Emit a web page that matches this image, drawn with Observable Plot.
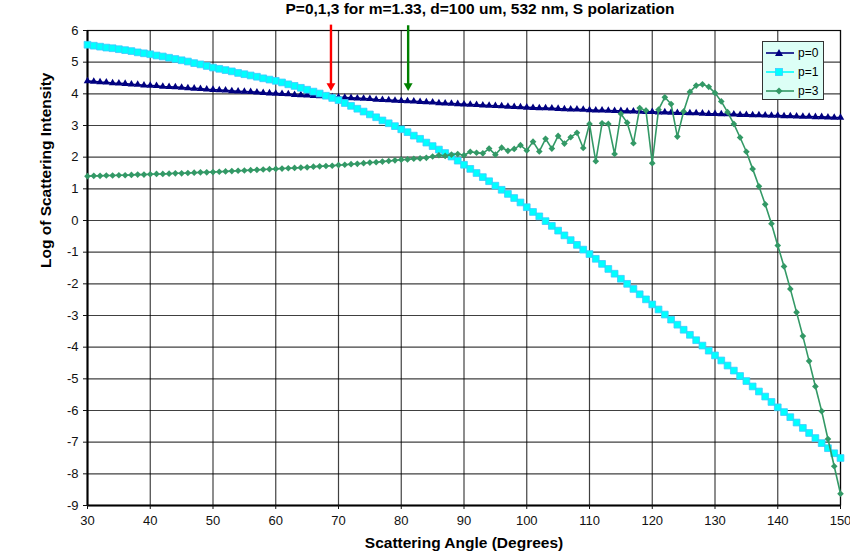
<!DOCTYPE html>
<html><head><meta charset="utf-8">
<script src="https://cdn.jsdelivr.net/npm/d3@7"></script>
<script src="https://cdn.jsdelivr.net/npm/@observablehq/plot@0.6"></script>
<style>
body{margin:0;background:#fff;font-family:"Liberation Sans",Arial,sans-serif}
#wrap{position:relative;width:850px;height:551px}
#legend{position:absolute;left:762px;top:41px;width:62px;height:59px;background:#dcfff6;border:1px solid #333;box-sizing:border-box;font-size:12px;color:#000}
#legend .row{position:absolute;left:2px;height:14px;display:flex;align-items:center}
#legend svg{display:block}
#legend span{margin-left:3px;line-height:14px}
</style></head><body><div id="wrap"></div>
<script>
const titleText = "P=0,1,3 for m=1.33, d=100 um, 532 nm, S polarization";
const xLabel = "Scattering Angle (Degrees)";
const yLabel = "Log of Scattering Intensity";
const seriesNames = ["p=0", "p=1", "p=3"];
const xTicks = [30, 40, 50, 60, 70, 80, 90, 100, 110, 120, 130, 140, 150];
const yTicks = [-9, -8, -7, -6, -5, -4, -3, -2, -1, 0, 1, 2, 3, 4, 5, 6];
const angles = d3.range(30, 151, 1);

const p0 = [
4.40,4.39,4.37,4.36,4.34,4.33,4.32,4.30,4.29,4.27,
4.26,4.25,4.23,4.22,4.21,4.20,4.18,4.17,4.16,4.14,
4.13,4.12,4.11,4.09,4.08,4.07,4.06,4.05,4.03,4.02,
4.01,4.00,3.99,3.97,3.96,3.95,3.94,3.93,3.91,3.90,
3.89,3.88,3.87,3.86,3.85,3.84,3.82,3.81,3.80,3.79,
3.78,3.77,3.76,3.75,3.74,3.73,3.71,3.70,3.69,3.68,
3.67,3.66,3.65,3.64,3.63,3.62,3.61,3.60,3.59,3.58,
3.57,3.56,3.55,3.55,3.54,3.53,3.52,3.51,3.51,3.50,
3.49,3.48,3.48,3.47,3.46,3.46,3.45,3.45,3.44,3.43,
3.43,3.42,3.42,3.41,3.40,3.40,3.39,3.39,3.38,3.37,
3.37,3.36,3.36,3.35,3.34,3.34,3.33,3.33,3.32,3.31,
3.31,3.30,3.30,3.29,3.28,3.28,3.27,3.27,3.26,3.25,
3.25];

const p1 = [
5.55,5.52,5.49,5.46,5.44,5.41,5.38,5.35,5.31,5.28,
5.25,5.21,5.18,5.14,5.10,5.06,5.02,4.97,4.93,4.88,
4.83,4.79,4.75,4.71,4.66,4.62,4.58,4.54,4.49,4.45,
4.41,4.36,4.30,4.25,4.19,4.13,4.07,4.01,3.94,3.87,
3.80,3.71,3.62,3.53,3.44,3.35,3.26,3.16,3.07,2.98,
2.88,2.79,2.68,2.58,2.46,2.35,2.24,2.13,2.02,1.89,
1.76,1.63,1.50,1.37,1.24,1.10,0.97,0.84,0.71,0.57,
0.42,0.27,0.13,-0.02,-0.17,-0.32,-0.47,-0.62,-0.77,-0.92,
-1.06,-1.21,-1.37,-1.53,-1.68,-1.84,-2.00,-2.16,-2.33,-2.49,
-2.65,-2.81,-2.97,-3.13,-3.29,-3.45,-3.61,-3.78,-3.95,-4.11,
-4.26,-4.42,-4.58,-4.74,-4.91,-5.07,-5.24,-5.40,-5.56,-5.73,
-5.90,-6.05,-6.21,-6.38,-6.55,-6.71,-6.87,-7.03,-7.19,-7.35,
-7.50];

const p3 = [
1.40,1.41,1.41,1.42,1.42,1.43,1.43,1.44,1.45,1.45,
1.46,1.47,1.47,1.48,1.49,1.49,1.50,1.51,1.52,1.52,
1.53,1.54,1.55,1.56,1.57,1.58,1.59,1.60,1.61,1.62,
1.63,1.64,1.65,1.66,1.67,1.68,1.70,1.71,1.72,1.73,
1.75,1.76,1.78,1.79,1.81,1.83,1.84,1.86,1.88,1.90,
1.92,1.93,1.95,1.96,1.98,2.02,2.06,2.04,2.08,2.10,
2.06,2.17,2.14,2.12,2.27,2.08,2.30,2.20,2.26,2.38,
2.21,2.49,2.18,2.58,2.27,2.67,2.43,2.63,2.77,2.29,
3.05,1.87,3.07,3.05,2.10,3.37,3.09,2.44,3.55,3.47,
1.81,3.50,3.89,3.68,2.65,3.44,4.06,4.26,4.30,4.22,
4.03,3.76,3.42,3.05,2.62,2.17,1.63,1.08,0.51,-0.10,
-0.79,-1.45,-2.16,-2.90,-3.65,-4.44,-5.24,-6.02,-6.90,-7.76,
-8.63];

// arrows: angle, top value, tip value
const arrowAngles = [68.8, 81.1];
const arrowTop = [6.17, 6.15];
const arrowTip = [4.10, 4.10];
const arrowColors = ["#ff0000", "#008000"];

const colors = {"p=0": "#000080", "p=1": "#00ffff", "p=3": "#339966"};

const d0 = angles.map((a, i) => ({a, v: p0[i]}));
const d1 = angles.map((a, i) => ({a, v: p1[i]}));
const d3s = angles.map((a, i) => ({a, v: p3[i]}));
const arrows = arrowAngles.map((a, i) => ({a, top: arrowTop[i], tip: arrowTip[i], c: arrowColors[i]}));

const chart = Plot.plot({
  width: 850, height: 551,
  marginLeft: 87, marginRight: 10, marginTop: 30, marginBottom: 46,
  style: {fontFamily: "'Liberation Sans', Arial, sans-serif", fontSize: "13px", color: "#111", background: "#fff", overflow: "visible"},
  x: {domain: [30, 150]},
  y: {domain: [-9, 6]},
  marks: [
    Plot.gridX(xTicks, {stroke: "#000", strokeOpacity: 0.75, strokeWidth: 1.2}),
    Plot.gridY(yTicks, {stroke: "#000", strokeOpacity: 0.75, strokeWidth: 1.2}),
    Plot.frame({stroke: "#000", strokeOpacity: 0.85, strokeWidth: 1.2}),
    Plot.ruleX([30], {stroke: "#000", strokeWidth: 2}),
    Plot.ruleY([-9], {stroke: "#000", strokeWidth: 2}),
    Plot.axisX({ticks: xTicks, tickSize: 4, tickPadding: 6, fontSize: 13, label: null, tickFormat: d => String(d)}),
    Plot.axisY({ticks: yTicks, tickSize: 4, tickPadding: 5, fontSize: 13, label: null, tickFormat: d => String(d)}),
    // p=0
    Plot.line(d0, {x: "a", y: "v", stroke: colors["p=0"], strokeWidth: 1.8}),
    Plot.dot(d0, {x: "a", y: "v", symbol: "triangle", r: 2.8, fill: colors["p=0"], stroke: "none"}),
    // p=1
    Plot.line(d1, {x: "a", y: "v", stroke: colors["p=1"], strokeWidth: 1.5}),
    Plot.dot(d1, {x: "a", y: "v", symbol: "square", r: 3.8, fill: colors["p=1"], stroke: "#3cc8ff", strokeWidth: 0.8}),
    // p=3
    Plot.line(d3s, {x: "a", y: "v", stroke: colors["p=3"], strokeWidth: 1.6}),
    Plot.dot(d3s, {x: "a", y: "v", symbol: "diamond2", r: 3.0, fill: colors["p=3"], stroke: "none"}),
    // arrows
    Plot.ruleX(arrows, {x: "a", y1: "top", y2: "tip", stroke: "c", strokeWidth: 2.4, insetBottom: 5, clip: false}),
    Plot.dot(arrows, {x: "a", y: "tip", symbol: "triangle", r: 3.3, rotate: 180, dy: -4.8, fill: "c", stroke: "none"}),
    // texts
    Plot.text([titleText], {frameAnchor: "top", lineAnchor: "middle", dx: 16, dy: -21, fontWeight: "bold", fontSize: 15.5, fill: "#000"}),
    Plot.text([xLabel], {frameAnchor: "bottom", lineAnchor: "middle", dy: 38, fontWeight: "bold", fontSize: 15.5, fill: "#000"}),
    Plot.text([yLabel], {frameAnchor: "left", dx: -41, rotate: -90, fontWeight: "bold", fontSize: 15.5, fill: "#000"})
  ]
});
const wrap = document.getElementById("wrap");
wrap.appendChild(chart);

// legend
const leg = document.createElement("div");
leg.id = "legend";
const markerSvg = {
  "p=0": `<polygon points="14,2 10,9 18,9" fill="${colors["p=0"]}"/>`,
  "p=1": `<rect x="10.5" y="2.5" width="7" height="7" fill="${colors["p=1"]}" stroke="#3cc8ff" stroke-width="0.8"/>`,
  "p=3": `<polygon points="14,2.5 17.5,6 14,9.5 10.5,6" fill="${colors["p=3"]}"/>`
};
const rowTops = [4, 23, 42];
seriesNames.forEach((s, i) => {
  const row = document.createElement("div");
  row.className = "row";
  row.style.top = rowTops[i] + "px";
  row.innerHTML = `<svg width="30" height="12"><line x1="1" x2="29" y1="6" y2="6" stroke="${colors[s]}" stroke-width="1.6"/>${markerSvg[s]}</svg><span>${s}</span>`;
  leg.appendChild(row);
});
wrap.appendChild(leg);
</script></body></html>
